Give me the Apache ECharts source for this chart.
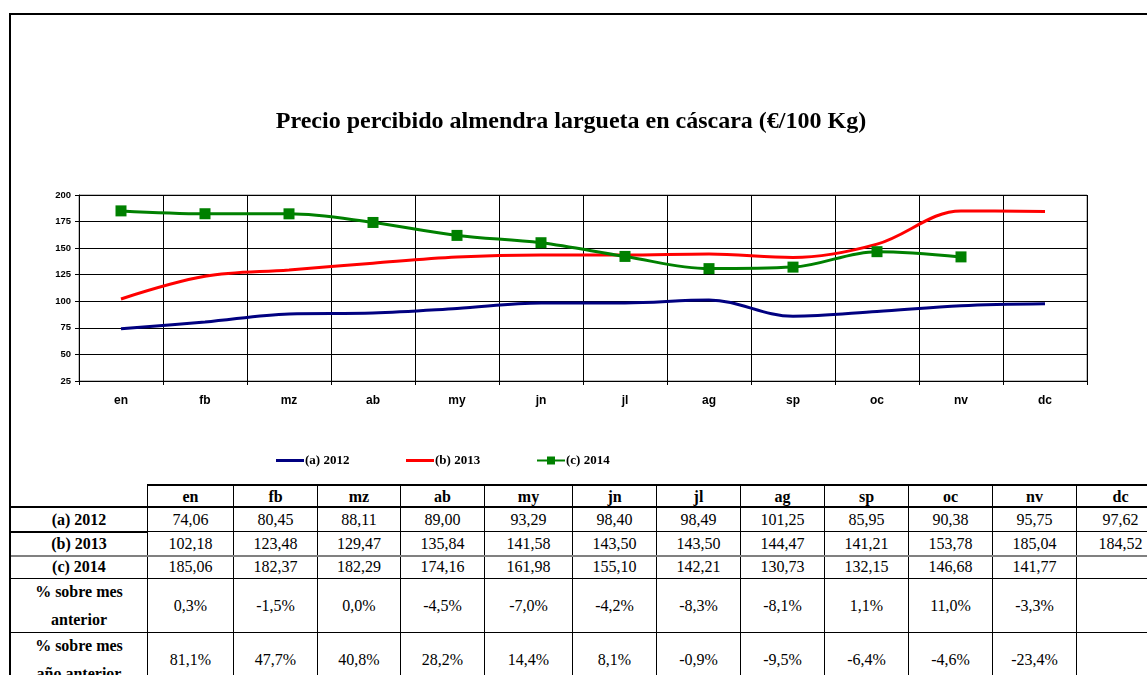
<!DOCTYPE html>
<html>
<head>
<meta charset="utf-8">
<script src="https://cdn.jsdelivr.net/npm/echarts@6/dist/echarts.min.js"></script>
<style>
  html, body { margin: 0; padding: 0; background: #fff; }
  #wrap { position: relative; width: 1147px; height: 675px; overflow: hidden; background: #fff; }
  #chart { position: absolute; left: 0; top: 0; width: 1147px; height: 675px; }
  #frame { position: absolute; left: 9px; top: 13px; width: 1300px; height: 800px;
           border-top: 2px solid #000; border-left: 2px solid #000; pointer-events: none; }
  .cell { position: absolute; box-sizing: border-box; border: 1px solid #000;
          display: flex; align-items: center; justify-content: center; text-align: center;
          font-family: "Liberation Serif", "Times New Roman", serif; font-size: 16px; color: #000;
          line-height: 28px; background: #fff; }
  .bold { font-weight: bold; }
  .hline { position: absolute; background: #000; }
</style>
</head>
<body>
<div id="wrap">
  <div id="chart"></div>
  <div id="table"></div>
  <div id="frame"></div>
</div>
<script>
// Months (category axis and table header)
const months = ['en', 'fb', 'mz', 'ab', 'my', 'jn', 'jl', 'ag', 'sp', 'oc', 'nv', 'dc'];

// Price series, €/100 Kg
const seriesNames = ['(a) 2012', '(b) 2013', '(c) 2014'];
const price2012 = [74.06, 80.45, 88.11, 89.00, 93.29, 98.40, 98.49, 101.25, 85.95, 90.38, 95.75, 97.62];
const price2013 = [102.18, 123.48, 129.47, 135.84, 141.58, 143.50, 143.50, 144.47, 141.21, 153.78, 185.04, 184.52];
const price2014 = [185.06, 182.37, 182.29, 174.16, 161.98, 155.10, 142.21, 130.73, 132.15, 146.68, 141.77, null];

// Percentage rows of the table
const pctLabels = ['% sobre mes<br>anterior', '% sobre mes<br>año anterior'];
const pctPrevMonth = ['0,3%', '-1,5%', '0,0%', '-4,5%', '-7,0%', '-4,2%', '-8,3%', '-8,1%', '1,1%', '11,0%', '-3,3%', ''];
const pctPrevYear = ['81,1%', '47,7%', '40,8%', '28,2%', '14,4%', '8,1%', '-0,9%', '-9,5%', '-6,4%', '-4,6%', '-23,4%', ''];

// Y axis ticks
const yMin = 25, yMax = 200, yStep = 25;

const colors = ['#000080', '#ff0000', '#008000'];

const chart = echarts.init(document.getElementById('chart'));

// One legend block per series so each entry sits at its own x
function legendAt(left, name, plainLine) {
  return {
    left: left, top: 449,
    itemWidth: 28, itemHeight: plainLine ? 3 : 10, itemGap: 0,
    icon: plainLine ? 'rect' : undefined,
    data: [name],
    textStyle: { fontFamily: 'Liberation Serif', fontWeight: 'bold', fontSize: 13, color: '#000', padding: [0, 0, 0, -4] }
  };
}

chart.setOption({
  animation: false,
  color: colors,
  title: {
    text: 'Precio percibido almendra largueta en cáscara (€/100 Kg)',
    left: 566, top: 105, textAlign: 'center',
    textStyle: { fontFamily: 'Liberation Serif', fontWeight: 'bold', fontSize: 24, color: '#000' }
  },
  legend: [
    legendAt(271, seriesNames[0], true),
    legendAt(401, seriesNames[1], true),
    legendAt(531, seriesNames[2], false)
  ],
  grid: {
    left: 79, right: 60, top: 195, bottom: 294,
    show: true, borderColor: '#808080', borderWidth: 1, backgroundColor: 'transparent'
  },
  xAxis: {
    type: 'category',
    data: months,
    boundaryGap: true,
    axisLine: { lineStyle: { color: '#000', width: 1 } },
    axisTick: { show: true, length: 4, interval: 0, lineStyle: { color: '#000' } },
    splitLine: { show: true, interval: 0, lineStyle: { color: '#000', width: 1 } },
    axisLabel: { interval: 0, margin: 14, fontFamily: 'Liberation Sans', fontWeight: 'bold', fontSize: 12, color: '#000' }
  },
  yAxis: {
    type: 'value',
    min: yMin, max: yMax, interval: yStep,
    axisLine: { show: true, lineStyle: { color: '#000', width: 1 } },
    axisTick: { show: true, length: 4, lineStyle: { color: '#000' } },
    splitLine: { show: true, lineStyle: { color: '#000', width: 1 } },
    axisLabel: { margin: 8, fontFamily: 'Liberation Sans', fontWeight: 'bold', fontSize: 9.5, color: '#000' }
  },
  series: [
    { name: seriesNames[0], type: 'line', data: price2012, smooth: 0.35, symbol: 'none',
      itemStyle: { color: colors[0] }, lineStyle: { width: 3, color: colors[0] } },
    { name: seriesNames[1], type: 'line', data: price2013, smooth: 0.35, symbol: 'none',
      itemStyle: { color: colors[1] }, lineStyle: { width: 3, color: colors[1] } },
    { name: seriesNames[2], type: 'line', data: price2014, smooth: 0.35, symbol: 'rect', symbolSize: 11,
      itemStyle: { color: colors[2] }, lineStyle: { width: 3, color: colors[2] } }
  ]
});

// Data table under the chart
const colX = [10, 147, 233, 317, 400, 484, 572, 656, 740, 824, 908, 992, 1076, 1164];
const rowY = [485, 507, 531, 555, 578, 632, 686];
const fmt = v => (v === null ? '' : v.toFixed(2).replace('.', ','));
const rows = [
  { label: '', cells: months, bold: true, header: true },
  { label: seriesNames[0], cells: price2012.map(fmt) },
  { label: seriesNames[1], cells: price2013.map(fmt) },
  { label: seriesNames[2], cells: price2014.map(fmt) },
  { label: pctLabels[0], cells: pctPrevMonth },
  { label: pctLabels[1], cells: pctPrevYear }
];
const table = document.getElementById('table');
function addCell(x0, x1, y0, y1, html, bold) {
  const d = document.createElement('div');
  d.className = 'cell' + (bold ? ' bold' : '');
  d.style.left = x0 + 'px';
  d.style.top = y0 + 'px';
  d.style.width = (x1 - x0 + 1) + 'px';
  d.style.height = (y1 - y0 + 1) + 'px';
  d.innerHTML = html;
  table.appendChild(d);
  return d;
}
function addLine(x, y, w, h, color) {
  const d = document.createElement('div');
  d.className = 'hline';
  d.style.left = x + 'px'; d.style.top = y + 'px';
  d.style.width = w + 'px'; d.style.height = h + 'px';
  if (color) d.style.background = color;
  table.appendChild(d);
}
rows.forEach((r, ri) => {
  const y0 = rowY[ri], y1 = rowY[ri + 1];
  if (!r.header) addCell(colX[0], colX[1], y0, y1, r.label, true);
  r.cells.forEach((c, ci) => addCell(colX[ci + 1], colX[ci + 2], y0, y1, c, !!r.bold));
});
// heavier rules of the table
addLine(colX[1], rowY[0] - 1, 1100, 2);
addLine(colX[0], rowY[1] - 1, 1200, 2);
addLine(colX[0], rowY[2], colX[1] - colX[0], 2);
addLine(colX[0], rowY[3], 1200, 2, '#808080');
</script>
</body>
</html>
